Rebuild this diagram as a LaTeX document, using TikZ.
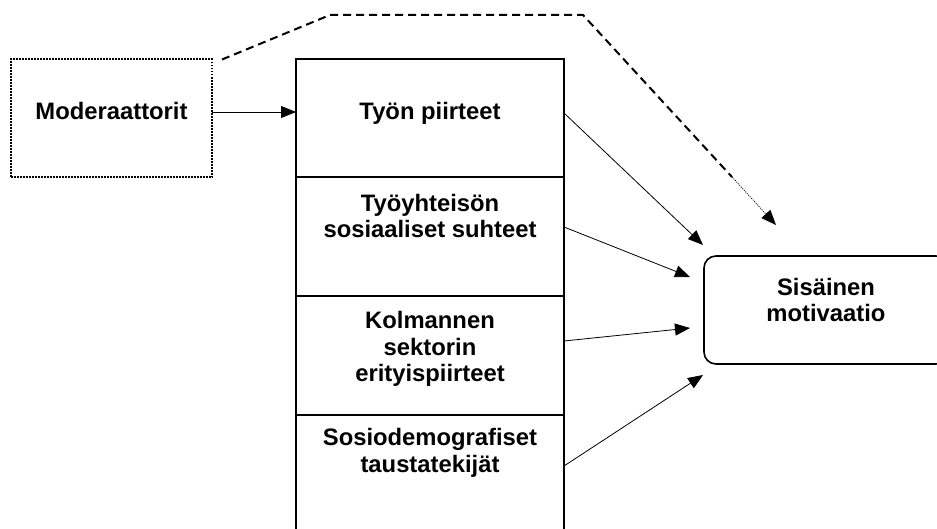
\documentclass[tikz,border=0pt]{standalone}
\usepackage{fontspec}
\setmainfont{Liberation Sans}
\usetikzlibrary{arrows.meta,positioning,calc}

\begin{document}
\begin{tikzpicture}[x=0.5pt,y=-0.5pt,>={Triangle[length=7.5pt,width=6pt]},
cell/.style={
draw=black,
line width=1pt,
minimum width=134pt,
inner sep=0pt,
outer sep=0pt,
},
modbox/.style={
draw=black,
line width=1pt,
dash pattern=on 0.8pt off 0.7pt,
minimum width=100.5pt,
minimum height=59pt,
inner sep=0pt,
outer sep=0pt,
},
goal/.style={
draw=black,
line width=0.8pt,
rounded corners=6pt,
minimum width=122pt,
minimum height=54pt,
outer sep=0pt,
},
txt/.style={
font=\fontsize{11.9}{13.4}\selectfont\bfseries,
align=center,
inner sep=0pt,
},
link/.style={->,line width=0.4pt},
]
\useasboundingbox (0,0) rectangle (937,529);

\node [cell,minimum height=59pt] (c1) at (430,118) {};
\node [cell,minimum height=59.5pt,below=0pt of c1] (c2) {};
\node [cell,minimum height=59.5pt,below=0pt of c2] (c3) {};
\node [cell,minimum height=60pt,below=0pt of c3] (c4) {};
\node [modbox] (mod) at (111.5,118.5) {};
\node [goal] (sm) at (826,310) {};

\node [txt] (t0) at (111.5,111) {Moderaattorit};
\node [txt] (t1) at (430,113.5) {Työn piirteet};
\node [txt] (t2) at (430,216) {Työyhteisön\\sosiaaliset suhteet};
\node [txt] (t3) at (430,349) {Kolmannen\\sektorin\\erityispiirteet};
\node [txt] (t4) at (430,453) {Sosiodemografiset\\taustatekijät};
\node [txt] (t5) at (826,300) {Sisäinen\\motivaatio};

\coordinate (d1) at (330,15);
\coordinate (d2) at (583,15);
\coordinate (d3) at (732,177);

\draw[link] ([yshift=3.25pt]mod.east) -- ([yshift=3.25pt]mod.east -| c1.west);
\foreach \i/\a/\b/\c in {c1/2.5/-0.5/32.5, c2/4.75/-7/16.5, c3/7.25/-7/-9, c4/4.5/-0.5/-32.5}
	\draw[link] ([yshift=\a pt]\i.east) -- ($(sm.west)+(\b pt,\c pt)$);

\draw[line width=1pt,dash pattern=on 4pt off 2.5pt] ([xshift=5pt]mod.north east) -- (d1) -- (d2) -- (d3);
\draw[link,dash pattern=on 0.5pt off 0.6pt] (d3) -- ($(sm.north)+(-25pt,15.5pt)$);
\end{tikzpicture}
\end{document}
